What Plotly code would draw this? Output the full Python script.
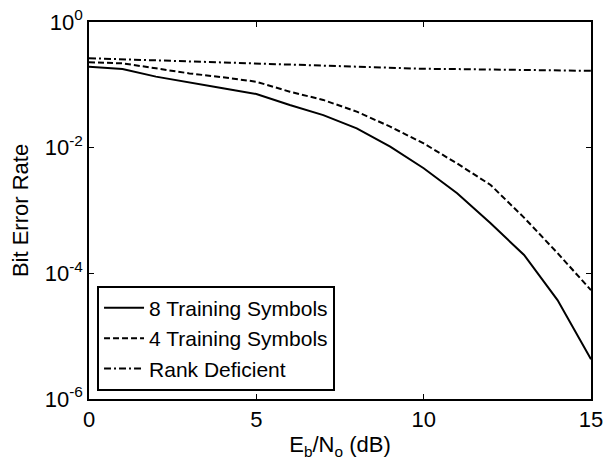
import plotly.graph_objects as go

ebno = list(range(0, 16))
ber_8 = [0.194, 0.179, 0.135, 0.108, 0.088, 0.0715, 0.0477, 0.033, 0.0203, 0.0104,
         0.0047, 0.00188, 6.25e-4, 1.96e-4, 3.76e-5, 4.3e-6]
ber_4 = [0.228, 0.22, 0.183, 0.152, 0.132, 0.112, 0.0778, 0.0575, 0.0374, 0.0216,
         0.0117, 0.0056, 0.00255, 7.7e-4, 2.1e-4, 5.4e-5]
ber_rank = [0.265, 0.255, 0.245, 0.235, 0.225, 0.218, 0.21, 0.2, 0.19, 0.185,
            0.18, 0.178, 0.176, 0.174, 0.17, 0.167]
names = ["8 Training Symbols", "4 Training Symbols", "Rank Deficient"]
x_ticks = [0, 5, 10, 15]
y_ticks = [1e-6, 1e-4, 1e-2, 1]
y_ticktext = ["10<sup>-6</sup>", "10<sup>-4</sup>", "10<sup>-2</sup>", "10<sup>0</sup>"]

font = "Arial, Liberation Sans, sans-serif"
fig = go.Figure()
for y, name, dash in zip([ber_8, ber_4, ber_rank], names,
                         ["solid", "6px,3px", "7px,3px,2px,3px"]):
    fig.add_trace(go.Scatter(x=ebno, y=y, name=name, mode="lines",
                             line=dict(color="black", width=2, dash=dash)))

axis_common = dict(showgrid=False, zeroline=False, showline=True, linecolor="black",
                   linewidth=1.5, mirror="ticks", ticks="inside", ticklen=5,
                   tickcolor="black", tickwidth=1, automargin=False,
                   tickfont=dict(family=font, size=22, color="black"))
fig.update_xaxes(range=[0, 15], tickvals=x_ticks,
                 title=dict(text="E<sub>b</sub>/N<sub>o</sub> (dB)",
                            font=dict(family=font, size=22, color="black"), standoff=6),
                 **axis_common)
fig.update_yaxes(type="log", range=[-6, 0], tickvals=y_ticks, ticktext=y_ticktext,
                 title=dict(text="Bit Error Rate",
                            font=dict(family=font, size=22, color="black"), standoff=10),
                 **axis_common)
fig.update_layout(
    width=610, height=460,
    margin=dict(l=89, r=19, t=22, b=61),
    plot_bgcolor="white", paper_bgcolor="white",
    legend=dict(x=0.016, y=0.022, xanchor="left", yanchor="bottom",
                bordercolor="black", borderwidth=2, bgcolor="white",
                font=dict(family=font, size=21, color="black"),
                itemwidth=40, tracegroupgap=0, entrywidth=222, entrywidthmode="pixels"),
    showlegend=True,
)
fig.write_html("out.html")
